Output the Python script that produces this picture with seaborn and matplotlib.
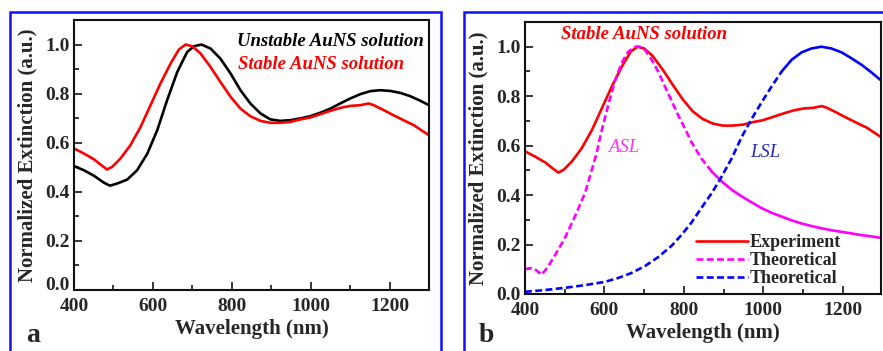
import numpy as np
import pandas as pd
import matplotlib
matplotlib.use("Agg")
import matplotlib.pyplot as plt
from matplotlib.ticker import MultipleLocator
from matplotlib.lines import Line2D
from matplotlib.patches import Rectangle
import matplotlib.transforms as mtransforms
import seaborn as sns

# ---------------- data ----------------
wl_unstable = [400, 425, 451, 476, 491, 510, 535, 560, 586, 611, 636, 662, 687, 704, 723, 746, 771, 797,
               822, 847, 873, 898, 923, 949, 974, 999, 1024, 1050, 1075, 1100, 1126, 1151, 1176, 1202,
               1227, 1252, 1278, 1300]
ext_unstable = [0.505, 0.488, 0.465, 0.437, 0.425, 0.434, 0.450, 0.488, 0.556, 0.651, 0.773, 0.889, 0.970,
                0.993, 1.0, 0.984, 0.943, 0.882, 0.814, 0.760, 0.719, 0.695, 0.689, 0.692, 0.699, 0.708,
                0.722, 0.739, 0.760, 0.780, 0.798, 0.810, 0.814, 0.811, 0.803, 0.790, 0.771, 0.753]

wl_stable = [400, 425, 451, 472, 484, 497, 518, 543, 569, 594, 619, 645, 666, 683, 700, 721, 746, 771, 797,
             822, 847, 873, 898, 923, 949, 974, 999, 1024, 1050, 1075, 1100, 1126, 1147, 1160, 1185, 1210,
             1235, 1261, 1286, 1300]
ext_stable = [0.577, 0.556, 0.532, 0.505, 0.491, 0.502, 0.536, 0.590, 0.665, 0.753, 0.841, 0.923, 0.980,
              1.0, 0.993, 0.963, 0.909, 0.848, 0.787, 0.739, 0.708, 0.689, 0.681, 0.681, 0.685, 0.695,
              0.703, 0.716, 0.730, 0.742, 0.750, 0.753, 0.760, 0.753, 0.733, 0.712, 0.692, 0.672, 0.645,
              0.631]

wl_asl = [400, 413, 425, 442, 459, 480, 501, 526, 551, 568, 580, 593, 610, 626, 643, 660, 677, 689, 702,
          719, 735, 752, 769, 786, 803, 819, 844, 870, 895, 920, 945, 970, 995, 1021, 1046, 1071, 1096,
          1121, 1146, 1171, 1197, 1222, 1247, 1272, 1299]
ext_asl = [0.100, 0.105, 0.100, 0.078, 0.113, 0.169, 0.229, 0.315, 0.408, 0.501, 0.568, 0.661, 0.767,
           0.860, 0.934, 0.980, 1.0, 1.0, 0.987, 0.947, 0.900, 0.840, 0.781, 0.721, 0.668, 0.614, 0.548,
           0.495, 0.455, 0.422, 0.395, 0.371, 0.348, 0.328, 0.313, 0.298, 0.285, 0.275, 0.266, 0.258,
           0.251, 0.245, 0.238, 0.233, 0.226]

wl_lsl = [400, 450, 501, 551, 601, 635, 668, 702, 735, 769, 794, 819, 844, 870, 895, 920, 945, 970, 995,
          1021, 1046, 1071, 1096, 1121, 1146, 1171, 1197, 1222, 1247, 1272, 1299]
ext_lsl = [0.009, 0.016, 0.025, 0.036, 0.049, 0.065, 0.085, 0.113, 0.149, 0.195, 0.239, 0.289, 0.348,
           0.408, 0.475, 0.548, 0.634, 0.707, 0.774, 0.840, 0.900, 0.947, 0.977, 0.993, 1.0, 0.993,
           0.977, 0.953, 0.927, 0.896, 0.860]

legend_labels = ["Experiment", "Theoretical", "Theoretical"]
xticks = [400, 600, 800, 1000, 1200]
yticks = [0.0, 0.2, 0.4, 0.6, 0.8, 1.0]

# ---------------- style ----------------
sns.set_style("ticks")
plt.rcParams["font.family"] = ["Liberation Serif", "DejaVu Serif"]
plt.rcParams["font.weight"] = "bold"
plt.rcParams["axes.labelweight"] = "bold"

RED = "#ff0000"
BLACK = "#000000"
MAG = "#ff00ff"
BLUE = "#0000ff"
DASH = (0, (2.6, 1.3))

fig = plt.figure(figsize=(8.83, 3.51), dpi=100)
W, H = 883, 351

def fig_axes(l, t, r, b):
    return fig.add_axes([l / W, 1 - b / H, (r - l) / W, (b - t) / H])

axa = fig_axes(74, 20, 429, 290)
axb = fig_axes(525, 22, 881, 294)

LW = 1.9

def draw_line(ax, x, y, color, ls="-", mask=None):
    df = pd.DataFrame({"x": np.asarray(x, float), "y": np.asarray(y, float)})
    if mask is not None:
        df = df[mask(df["x"])]
    sns.lineplot(data=df, x="x", y="y", ax=ax, color=color, lw=LW, linestyle=ls,
                 estimator=None, sort=True, legend=False)

# panel a
draw_line(axa, wl_unstable, ext_unstable, BLACK)
draw_line(axa, wl_stable, ext_stable, RED)

# panel b
draw_line(axb, wl_stable, ext_stable, RED)
draw_line(axb, wl_asl, ext_asl, MAG, ls=DASH, mask=lambda s: s <= 870)
draw_line(axb, wl_asl, ext_asl, MAG, mask=lambda s: s >= 870)
draw_line(axb, wl_lsl, ext_lsl, BLUE, ls=DASH, mask=lambda s: s <= 1046)
draw_line(axb, wl_lsl, ext_lsl, BLUE, mask=lambda s: s >= 1046)

for ax, xr in ((axa, 1300), (axb, 1296)):
    ax.set_xlim(400, xr)
    ax.set_ylim(0, 1.1)
    ax.set_xticks(xticks)
    ax.set_yticks(yticks)
    ax.set_xticklabels([str(v) for v in xticks])
    ax.set_yticklabels([f"{v:.1f}" for v in yticks])
    ax.xaxis.set_minor_locator(MultipleLocator(100))
    ax.yaxis.set_minor_locator(MultipleLocator(0.1))
    ax.tick_params(which="both", direction="in", top=False, right=False,
                   labelsize=14, width=1.3)
    ax.tick_params(axis="x", which="major", pad=5.5)
    ax.tick_params(axis="y", which="major", pad=3)
    ax.tick_params(which="major", length=6)
    ax.tick_params(which="minor", length=3.5)
    for sp in ax.spines.values():
        sp.set_visible(True)
        sp.set_linewidth(1.5)
        sp.set_color("#111111")
    for lab in ax.get_xticklabels() + ax.get_yticklabels():
        lab.set_fontweight("bold")
    ax.set_xlabel("Wavelength (nm)", fontsize=15, fontweight="bold", labelpad=3)
    ax.set_ylabel("Normalized Extinction (a.u.)", fontsize=15, fontweight="bold", labelpad=6)

# raise the "0.0" label of panel a slightly, as in the reference
lab0 = axa.get_yticklabels()[0]
lab0.set_transform(lab0.get_transform() + mtransforms.ScaledTranslation(0, 6 / 100, fig.dpi_scale_trans))

# annotations panel a
axa.text(0.985, 0.922, "Unstable AuNS solution", transform=axa.transAxes, ha="right", va="center",
         fontsize=13.5, fontweight="bold", fontstyle="italic", color=BLACK)
axa.text(0.463, 0.835, "Stable AuNS solution", transform=axa.transAxes, ha="left", va="center",
         fontsize=13.5, fontweight="bold", fontstyle="italic", color=RED)

# annotations panel b
axb.text(0.10, 0.955, "Stable AuNS solution", transform=axb.transAxes, ha="left", va="center",
         fontsize=13.5, fontweight="bold", fontstyle="italic", color=RED)
axb.text(0.232, 0.54, "ASL", transform=axb.transAxes, ha="left", va="center",
         fontsize=13.5, fontstyle="italic", fontweight="normal", color="#ff33ff")
axb.text(0.632, 0.52, "LSL", transform=axb.transAxes, ha="left", va="center",
         fontsize=13.5, fontstyle="italic", fontweight="normal", color="#2a2ab8")

handles = [Line2D([], [], color=RED, lw=LW),
           Line2D([], [], color=MAG, lw=LW, ls=DASH),
           Line2D([], [], color=BLUE, lw=LW, ls=DASH)]
axb.legend(handles, legend_labels, loc="lower left", bbox_to_anchor=(0.48, 0.025),
           frameon=False, handlelength=2.9, handletextpad=0.1,
           labelspacing=0.05, borderpad=0, borderaxespad=0,
           prop={"weight": "bold", "size": 13})

# panel letters
fig.text(33 / W, 1 - 335 / H, "a", fontsize=20, fontweight="bold", ha="center", va="center")
fig.text(486 / W, 1 - 335 / H, "b", fontsize=20, fontweight="bold", ha="center", va="center")

# blue frames
fig.add_artist(Rectangle((10 / W, -0.1), (441 - 10) / W, 1 - 12 / H + 0.1, transform=fig.transFigure,
                         fill=False, edgecolor="#1010ff", lw=1.8, clip_on=False))
fig.add_artist(Rectangle((464 / W, -0.1), (900 - 464) / W, 1 - 12 / H + 0.1, transform=fig.transFigure,
                         fill=False, edgecolor="#1010ff", lw=1.8, clip_on=False))

fig.savefig("out.png", dpi=100)
